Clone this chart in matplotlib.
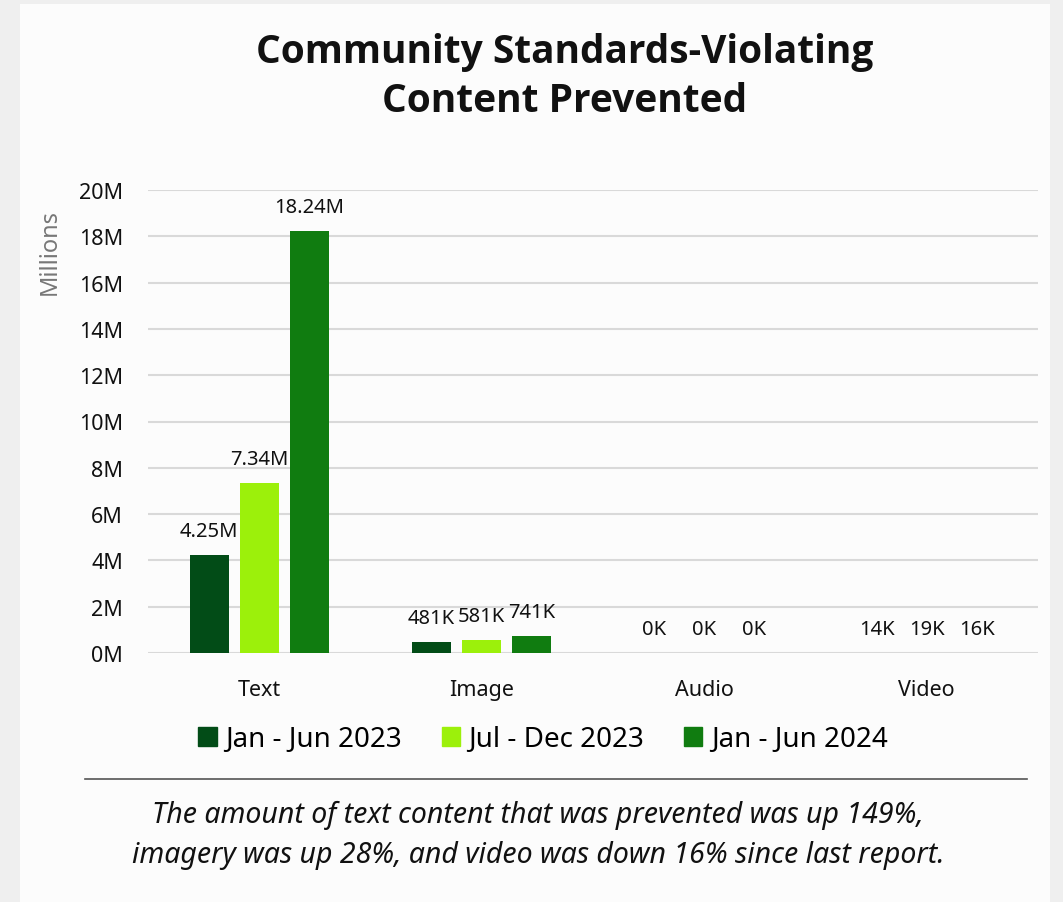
import matplotlib.pyplot as plt
import matplotlib.patches as mpatches
import numpy as np

plt.rcParams['font.family'] = ['Noto Sans', 'DejaVu Sans']

categories = ['Text', 'Image', 'Audio', 'Video']
periods = ['Jan - Jun 2023', 'Jul - Dec 2023', 'Jan - Jun 2024']
# values in millions
jan_jun_2023 = [4.25, 0.481, 0.0, 0.014]
jul_dec_2023 = [7.34, 0.581, 0.0, 0.019]
jan_jun_2024 = [18.24, 0.741, 0.0, 0.016]
series = [jan_jun_2023, jul_dec_2023, jan_jun_2024]
colors = ['#024c17', '#9cf00b', '#107c10']
yticks = [0, 2, 4, 6, 8, 10, 12, 14, 16, 18, 20]


def fmt(v):
    if v >= 1:
        return f'{v:.2f}M'
    return f'{v * 1000:.0f}K'


fig = plt.figure(figsize=(10.63, 9.03), dpi=100, facecolor='#efefef')
# white card
fig.patches.append(mpatches.Rectangle((20 / 1063, 0), 1030 / 1063, 898 / 903,
                                      transform=fig.transFigure, facecolor='#fcfcfc',
                                      edgecolor='none', zorder=-5))

ax = fig.add_axes([148 / 1063, 1 - 654 / 903, 890 / 1063, 463 / 903])
ax.set_facecolor('none')
ax.set_zorder(2)

x = np.arange(len(categories))
width = 0.175
step = 0.225
for i, (vals, col, lab) in enumerate(zip(series, colors, periods)):
    pos = x + (i - 1) * step
    bars = ax.bar(pos, vals, width, color=col, label=lab, zorder=3)
    for b, v in zip(bars, vals):
        ax.annotate(fmt(v), (b.get_x() + b.get_width() / 2, v),
                    xytext=(0, 17), textcoords='offset points',
                    ha='center', va='center', fontsize=14.5, color='#111111')

ax.set_xlim(-0.5, len(categories) - 0.5)
ax.set_ylim(0, 20)
ax.set_yticks(yticks)
ax.set_yticklabels([f'{t}M' for t in yticks])
ax.set_xticks(x)
ax.set_xticklabels(categories)
ax.tick_params(axis='y', length=0, pad=18, labelsize=15.5, labelcolor='#111111')
ax.tick_params(axis='x', length=0, pad=19, labelsize=15.5, labelcolor='#111111')
ax.grid(axis='y', color='#d9d9d9', linewidth=1.5, zorder=0)
for s in ax.spines.values():
    s.set_visible(False)

fig.text(50 / 1063, 1 - 252 / 903, 'Millions', rotation=90, ha='center', va='center',
         fontsize=17, color='#777777')

fig.text(565 / 1063, 1 - 77 / 903, 'Community Standards-Violating\nContent Prevented',
         ha='center', va='center', fontsize=28, fontweight='bold', color='#111111',
         family=['Open Sans', 'DejaVu Sans'], linespacing=1.35)

handles = [mpatches.Patch(color=c, label=l) for c, l in zip(colors, periods)]
fig.legend(handles=handles, loc='center', bbox_to_anchor=(543 / 1063, 1 - 740 / 903),
           ncol=3, frameon=False, fontsize=20, handlelength=0.65, handleheight=0.65,
           handletextpad=0.3, columnspacing=1.45)

fig.add_artist(plt.Line2D([85 / 1063, 1027 / 1063], [1 - 780 / 903, 1 - 780 / 903],
                          transform=fig.transFigure, color='#555555', linewidth=1.2))

fig.text(538 / 1063, 1 - 835 / 903,
         'The amount of text content that was prevented was up 149%,\n'
         'imagery was up 28%, and video was down 16% since last report.',
         ha='center', va='center', fontsize=20.5, style='italic', color='#111111',
         linespacing=1.5)

fig.savefig('out.png', dpi=100, facecolor=fig.get_facecolor())
